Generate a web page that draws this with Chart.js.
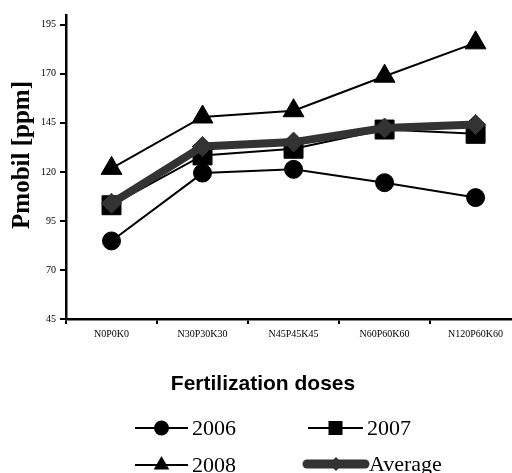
<!DOCTYPE html>
<html>
<head>
<meta charset="utf-8">
<script src="https://cdn.jsdelivr.net/npm/chart.js@4.4.1/dist/chart.umd.min.js"></script>
<style>
  html, body { margin: 0; padding: 0; background: #fff; overflow: hidden; }
  #chart { display: block; }
</style>
</head>
<body>
<canvas id="chart" width="512" height="473"></canvas>
<script>
const doses = ['N0P0K0', 'N30P30K30', 'N45P45K45', 'N60P60K60', 'N120P60K60'];
const y2006 = [84.8, 119.4, 121.3, 114.5, 106.9];
const y2007 = [103, 128.4, 131.8, 141.6, 139.4];
const y2008 = [121.8, 148, 151.2, 168.8, 185.8];
const yAverage = [104, 133, 135.2, 142.4, 144.2];
const yTicks = [45, 70, 95, 120, 145, 170, 195];

const SERIF = "'Liberation Serif', 'Times New Roman', serif";
const SANS = "'Liberation Sans', Arial, sans-serif";
const DARK = '#333333';

// Marker shapes for the hand-drawn legend
function marker(ctx, style, x, y, r, color) {
    ctx.fillStyle = color;
    ctx.beginPath();
    if (style === 'circle') {
        ctx.arc(x, y, r, 0, Math.PI * 2);
    } else if (style === 'rect') {
        ctx.rect(x - r, y - r, 2 * r, 2 * r);
    } else if (style === 'triangle') {
        ctx.moveTo(x, y - r);
        ctx.lineTo(x + r * 0.866, y + r / 2);
        ctx.lineTo(x - r * 0.866, y + r / 2);
        ctx.closePath();
    } else {
        ctx.moveTo(x - r, y);
        ctx.lineTo(x, y - r);
        ctx.lineTo(x + r, y);
        ctx.lineTo(x, y + r);
        ctx.closePath();
    }
    ctx.fill();
}

const legendItems = [
    { text: '2006', style: 'circle', r: 7.5, x1: 135, x2: 188, y: 428, w: 2, color: '#000' },
    { text: '2007', style: 'rect', r: 7, x1: 308, x2: 363, y: 428, w: 2, color: '#000' },
    { text: '2008', style: 'triangle', r: 9, x1: 135, x2: 188, y: 465, w: 2, color: '#000' },
    { text: 'Average', style: 'diamond', r: 7, x1: 307, x2: 365, y: 464, w: 9, color: DARK }
];

const annotations = {
    id: 'annotations',
    afterDraw(chart) {
        const ctx = chart.ctx;
        ctx.save();

        // y-axis title
        ctx.save();
        ctx.translate(23, 155);
        ctx.rotate(-Math.PI / 2);
        ctx.font = 'bold 25px ' + SERIF;
        ctx.fillStyle = '#000';
        ctx.textAlign = 'center';
        ctx.textBaseline = 'middle';
        ctx.fillText('Pmobil [ppm]', 0, 0);
        ctx.restore();

        // x-axis title
        ctx.font = 'bold 21px ' + SANS;
        ctx.fillStyle = '#000';
        ctx.textAlign = 'center';
        ctx.textBaseline = 'middle';
        ctx.fillText('Fertilization doses', 263, 384);

        // legend
        legendItems.forEach(item => {
            ctx.strokeStyle = item.color;
            ctx.lineWidth = item.w;
            ctx.lineCap = item.w > 4 ? 'round' : 'butt';
            ctx.beginPath();
            ctx.moveTo(item.x1, item.y);
            ctx.lineTo(item.x2, item.y);
            ctx.stroke();
            marker(ctx, item.style, (item.x1 + item.x2) / 2, item.y, item.r, item.color);
            ctx.font = '22px ' + SERIF;
            ctx.fillStyle = '#000';
            ctx.textAlign = 'left';
            ctx.textBaseline = 'middle';
            ctx.fillText(item.text, item.x2 + 4, item.y + 1);
        });
        ctx.restore();
    }
};

function series(label, data, style, radius, color, width, order) {
    return {
        label: label,
        data: data,
        borderColor: color,
        borderWidth: width,
        backgroundColor: color,
        pointStyle: style,
        pointRadius: radius,
        pointHoverRadius: radius,
        pointBackgroundColor: color,
        pointBorderColor: color,
        pointBorderWidth: 1,
        tension: 0,
        fill: false,
        order: order
    };
}

new Chart(document.getElementById('chart'), {
    type: 'line',
    data: {
        labels: doses,
        datasets: [
            series('2006', y2006, 'circle', 9, '#000', 2, 3),
            series('2007', y2007, 'rect', 13.4, '#000', 2, 2),
            series('2008', y2008, 'triangle', 12, '#000', 2, 1),
            series('Average', yAverage, 'rectRot', 10, DARK, 8, 0)
        ]
    },
    options: {
        responsive: false,
        animation: false,
        layout: { autoPadding: false, padding: { top: 15, right: 0, bottom: 100, left: 0 } },
        plugins: {
            legend: { display: false },
            tooltip: { enabled: false }
        },
        scales: {
            x: {
                type: 'category',
                offset: true,
                // the last category is cut by the right edge of the picture
                afterBuildTicks: scale => { scale._valueRange = 4.9; },
                afterFit: scale => {
                    scale.height = 54;
                    scale.paddingLeft = 0;
                    scale.paddingRight = 0;
                },
                grid: {
                    offset: true,
                    drawOnChartArea: false,
                    drawTicks: true,
                    tickLength: 5,
                    color: '#000',
                    lineWidth: 2
                },
                border: { display: true, color: '#000', width: 2.5 },
                ticks: {
                    color: '#000',
                    font: { family: SERIF, size: 10 },
                    padding: 4,
                    maxRotation: 0,
                    autoSkip: false
                }
            },
            y: {
                min: 45,
                max: 200,
                afterFit: scale => {
                    scale.width = 66;
                    scale.paddingTop = 0;
                    scale.paddingBottom = 0;
                },
                afterBuildTicks: scale => {
                    scale.ticks = yTicks.map(v => ({ value: v }));
                },
                grid: {
                    drawOnChartArea: false,
                    drawTicks: true,
                    tickLength: 6,
                    color: '#000',
                    lineWidth: 2
                },
                border: { display: true, color: '#000', width: 2.5 },
                ticks: {
                    color: '#000',
                    font: { family: SERIF, size: 10 },
                    padding: 4
                }
            }
        }
    },
    plugins: [annotations]
});
</script>
</body>
</html>
